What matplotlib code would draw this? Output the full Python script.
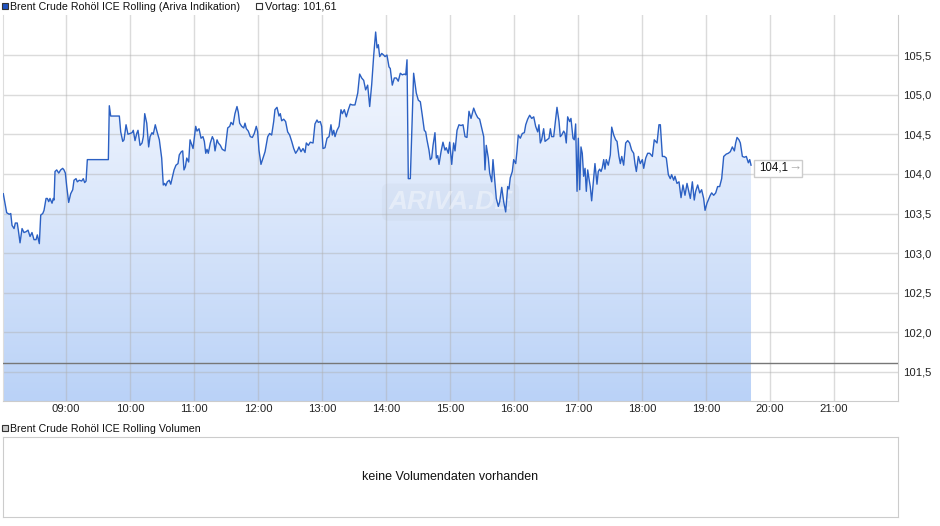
import numpy as np
import matplotlib
matplotlib.use("Agg")
import matplotlib.pyplot as plt
from matplotlib.patches import Rectangle, Polygon
from matplotlib.colors import LinearSegmentedColormap
from matplotlib.transforms import IdentityTransform

plt.rcParams['font.family'] = ['Liberation Sans', 'DejaVu Sans']

# Kursverlauf: Minuten nach 08:00 und Kurs
minuten = [
    1.2, 4.4, 6.8, 8.2, 9.4, 11.3, 12.5, 14.3, 15.3, 16.9,
    18.8, 20.6, 22.5, 24.4, 26.3, 28.1, 30.0, 31.9, 33.1, 35.0,
    36.3, 38.2, 39.4, 41.3, 42.5, 43.8, 45.0, 46.9, 48.1, 48.8,
    49.7, 51.3, 53.2, 55.0, 56.9, 58.1, 59.4, 60.7, 62.5, 64.4,
    66.3, 67.5, 69.4, 70.6, 72.5, 74.7, 76.2, 77.5, 78.8, 80.0,
    99.7, 100.6, 101.9, 110.0, 111.3, 113.2, 114.4, 116.3, 118.1, 120.0,
    121.9, 123.1, 124.7, 126.3, 127.5, 129.4, 131.3, 132.5, 133.8, 135.7,
    137.5, 138.8, 140.6, 141.8, 143.7, 145.0, 147.5, 149.7, 151.2, 152.5,
    153.5, 155.0, 156.8, 158.2, 159.4, 161.3, 163.1, 165.0, 166.2, 168.1,
    169.4, 170.6, 171.9, 173.2, 175.0, 176.3, 179.1, 181.6, 182.8, 184.7,
    186.6, 188.4, 189.7, 191.0, 192.2, 193.4, 195.3, 197.2, 198.5, 199.7,
    201.6, 202.8, 204.7, 206.5, 209.1, 211.6, 213.5, 214.7, 216.6, 218.4,
    220.3, 221.5, 222.8, 224.7, 226.6, 227.8, 229.1, 230.9, 232.8, 234.7,
    236.5, 238.4, 239.7, 240.9, 242.8, 244.7, 246.6, 249.1, 250.9, 252.8,
    254.7, 255.9, 257.8, 259.7, 260.9, 262.2, 264.1, 265.9, 267.8, 269.7,
    271.6, 273.5, 275.3, 277.2, 278.4, 280.3, 282.2, 284.1, 285.3, 287.2,
    289.0, 291.6, 293.4, 295.3, 296.5, 298.4, 299.7, 300.9, 302.8, 304.7,
    306.6, 308.4, 309.7, 311.0, 312.2, 314.1, 316.0, 317.8, 319.1, 320.9,
    322.8, 324.7, 326.5, 328.4, 330.9, 333.5, 335.3, 337.2, 339.1, 340.9,
    342.8, 344.7, 346.6, 348.5, 350.3, 351.6, 352.8, 354.1, 356.0, 357.8,
    359.1, 360.9, 362.8, 364.0, 365.9, 367.8, 369.7, 371.5, 373.4, 375.3,
    377.2, 378.5, 379.7, 380.9, 382.8, 385.9, 388.4, 390.3, 392.2, 394.0,
    395.9, 397.2, 398.4, 400.3, 401.5, 402.8, 404.1, 405.9, 407.2, 408.5,
    409.7, 411.6, 413.4, 415.3, 416.5, 418.4, 419.7, 421.6, 423.4, 424.7,
    426.6, 428.4, 430.3, 432.2, 434.1, 435.9, 437.8, 439.7, 442.2, 444.1,
    446.0, 447.8, 449.7, 451.6, 452.8, 454.0, 455.9, 457.2, 459.1, 460.3,
    462.2, 463.4, 465.3, 466.6, 468.5, 470.3, 472.2, 474.1, 475.3, 476.5,
    478.4, 479.7, 481.6, 482.8, 484.0, 485.9, 487.8, 489.7, 491.0, 492.8,
    494.7, 496.6, 498.5, 500.3, 502.2, 503.4, 504.7, 505.9, 507.8, 509.1,
    510.9, 512.8, 514.1, 515.3, 517.2, 518.4, 520.3, 522.2, 523.4, 524.7,
    526.6, 527.8, 529.0, 530.3, 532.2, 533.4, 535.3, 536.5, 537.8, 539.1,
    540.3, 541.6, 542.8, 544.0, 545.3, 546.6, 547.8, 549.1, 550.3, 551.5,
    552.8, 554.1, 555.9, 557.8, 559.0, 560.3, 561.6, 562.8, 564.1, 565.3,
    566.5, 568.4, 570.3, 571.6, 573.5, 575.3, 576.6, 578.4, 579.7, 581.0,
    582.8, 584.7, 586.6, 588.4, 590.3, 592.2, 593.4, 594.7, 596.6, 598.4,
    600.3, 601.6, 603.5, 605.3, 607.2, 609.7, 611.5, 612.8, 614.1, 615.9,
    617.2, 619.1, 621.0, 622.8, 624.7, 626.5, 627.8, 629.7, 630.9, 632.8,
    634.7, 636.6, 638.4, 640.3, 642.2, 644.1, 645.3, 647.2, 649.0, 650.3,
    652.2, 654.1, 655.9, 657.8, 659.1, 660.9, 662.8, 664.0, 665.3, 667.2,
    669.1, 670.9, 672.8, 674.7, 676.6, 679.0, 680.9, 682.8, 684.7, 686.6,
    687.8, 689.1, 690.9, 692.2, 694.1, 696.0, 697.8, 699.7, 701.0, 702.2,
]
kurs = [
    103.75, 103.51, 103.49, 103.50, 103.35, 103.31, 103.38, 103.38, 103.29, 103.13,
    103.31, 103.26, 103.27, 103.29, 103.21, 103.26, 103.17, 103.17, 103.23, 103.12,
    103.48, 103.50, 103.54, 103.69, 103.69, 103.65, 103.69, 103.63, 103.69, 103.67,
    104.03, 104.05, 104.01, 104.05, 104.07, 104.05, 104.01, 103.84, 103.64, 103.75,
    103.80, 103.92, 103.94, 103.90, 103.92, 103.91, 103.94, 103.89, 103.91, 104.18,
    104.18, 104.86, 104.73, 104.73, 104.53, 104.41, 104.43, 104.62, 104.50, 104.51,
    104.52, 104.55, 104.42, 104.51, 104.55, 104.36, 104.39, 104.47, 104.76, 104.64,
    104.34, 104.47, 104.52, 104.50, 104.62, 104.55, 104.43, 104.20, 103.86, 103.88,
    103.85, 103.90, 103.92, 103.87, 103.94, 104.05, 104.11, 104.13, 104.24, 104.28,
    104.29, 104.05, 104.09, 104.20, 104.15, 104.43, 104.32, 104.60, 104.54, 104.57,
    104.45, 104.47, 104.41, 104.26, 104.31, 104.26, 104.39, 104.47, 104.43, 104.29,
    104.43, 104.39, 104.36, 104.31, 104.29, 104.58, 104.60, 104.65, 104.62, 104.76,
    104.85, 104.78, 104.64, 104.60, 104.58, 104.64, 104.57, 104.54, 104.47, 104.46,
    104.51, 104.60, 104.53, 104.30, 104.12, 104.20, 104.28, 104.47, 104.51, 104.49,
    104.66, 104.81, 104.84, 104.73, 104.76, 104.67, 104.69, 104.66, 104.53, 104.49,
    104.41, 104.32, 104.26, 104.30, 104.34, 104.28, 104.32, 104.27, 104.39, 104.36,
    104.40, 104.39, 104.63, 104.68, 104.65, 104.66, 104.60, 104.32, 104.33, 104.45,
    104.47, 104.62, 104.49, 104.55, 104.47, 104.55, 104.60, 104.81, 104.76, 104.81,
    104.72, 104.81, 104.88, 104.87, 104.87, 105.02, 105.26, 105.21, 105.18, 105.06,
    105.12, 104.85, 105.13, 105.50, 105.79, 105.59, 105.63, 105.48, 105.52, 105.50,
    105.48, 105.50, 105.35, 105.33, 105.12, 105.21, 105.21, 105.17, 105.27, 105.25,
    105.26, 105.25, 105.44, 103.94, 103.94, 105.27, 105.02, 104.93, 104.91, 104.74,
    104.55, 104.53, 104.43, 104.30, 104.18, 104.20, 104.36, 104.52, 104.20, 104.23,
    104.12, 104.28, 104.40, 104.30, 104.33, 104.26, 104.40, 104.12, 104.39, 104.29,
    104.55, 104.62, 104.61, 104.62, 104.47, 104.46, 104.79, 104.70, 104.83, 104.76,
    104.71, 104.69, 104.58, 104.47, 104.05, 104.36, 104.20, 104.01, 103.90, 104.18,
    103.88, 103.69, 103.59, 103.65, 103.83, 103.65, 103.52, 103.84, 103.81, 103.95,
    104.03, 104.18, 104.13, 104.29, 104.49, 104.45, 104.51, 104.52, 104.62, 104.69,
    104.74, 104.70, 104.72, 104.60, 104.53, 104.62, 104.39, 104.43, 104.57, 104.41,
    104.43, 104.45, 104.57, 104.47, 104.47, 104.61, 104.84, 104.66, 104.47, 104.49,
    104.54, 104.51, 104.39, 104.72, 104.66, 104.70, 104.45, 104.43, 104.63, 103.78,
    104.45, 103.80, 104.34, 104.26, 103.97, 104.07, 103.78, 104.05, 103.94, 103.84,
    103.66, 103.86, 104.13, 103.87, 104.03, 104.06, 104.03, 104.08, 104.18, 104.06,
    104.18, 104.11, 104.24, 104.59, 104.49, 104.43, 104.41, 104.22, 104.13, 104.22,
    104.11, 104.39, 104.42, 104.39, 104.30, 104.26, 104.13, 104.03, 104.22, 104.13,
    104.18, 104.07, 104.20, 104.26, 104.26, 104.22, 104.43, 104.41, 104.39, 104.62,
    104.62, 104.22, 104.22, 104.20, 103.99, 103.94, 103.99, 103.92, 103.97, 103.88,
    103.90, 103.70, 103.86, 103.73, 103.88, 103.76, 103.69, 103.90, 103.67, 103.78,
    103.86, 103.76, 103.80, 103.69, 103.54, 103.63, 103.69, 103.73, 103.76, 103.73,
    103.76, 103.84, 103.84, 103.94, 104.22, 104.25, 104.26, 104.28, 104.34, 104.29,
    104.39, 104.46, 104.43, 104.39, 104.22, 104.21, 104.22, 104.14, 104.18, 104.11,
]
vortag = 101.61
letzter = "104,1"

stunden = list(range(9, 22))
zeit_labels = ["%02d:00" % h for h in stunden]
kurs_ticks = [101.5, 102.0, 102.5, 103.0, 103.5, 104.0, 104.5, 105.0, 105.5]

titel = "Brent Crude Rohöl ICE Rolling (Ariva Indikation)"
vortag_text = "Vortag: 101,61"
volumen_titel = "Brent Crude Rohöl ICE Rolling Volumen"
volumen_text = "keine Volumendaten vorhanden"

W, H = 940, 526
def rect(x0, y0, x1, y1):
    return [x0 / W, 1 - y1 / H, (x1 - x0) / W, (y1 - y0) / H]

def kasten(x, y, farbe):
    # kleines Legendenquadrat, Pixel von oben links
    fig.patches.append(Rectangle((x / W, 1 - (y + 6) / H), 6 / W, 6 / H,
                                 transform=fig.transFigure, fc=farbe, ec="#333333", lw=0.8))

fig = plt.figure(figsize=(W / 100, H / 100), dpi=100)
fig.patch.set_facecolor("white")

ax = fig.add_axes(rect(3, 15, 898, 401))
t = 8 + np.array(minuten) / 60.0
k = np.array(kurs)
ylo, yhi = 101.134, 106.005
xlo, xhi = 8 + 1 / 64, 22.0

# Verlaufsfläche
farben = LinearSegmentedColormap.from_list("fl", ["#bad2f7", "#fbfcff"])
grad = np.linspace(0, 1, 256).reshape(-1, 1)
im = ax.imshow(grad, extent=[xlo, xhi, ylo, yhi], origin="lower", aspect="auto",
               cmap=farben, zorder=1, interpolation="bilinear")
verts = [(t[0], ylo)] + list(zip(t, k)) + [(t[-1], ylo)]
flaeche = Polygon(verts, closed=True, facecolor="none", edgecolor="none")
ax.add_patch(flaeche)
im.set_clip_path(flaeche)

ax.plot(t, k, color="#2b60c3", lw=1.0, zorder=3, solid_joinstyle="round")
ax.axhline(vortag, color="#777777", lw=1.0, zorder=4)

ax.set_xlim(xlo, xhi)
ax.set_ylim(ylo, yhi)
ax.set_xticks(stunden)
ax.set_xticklabels(zeit_labels)
ax.set_yticks(kurs_ticks)
ax.set_yticklabels([("%.1f" % v).replace(".", ",") for v in kurs_ticks])
ax.yaxis.tick_right()
ax.tick_params(axis="both", length=0, labelsize=8.1, colors="#222222")
ax.tick_params(axis="x", pad=2)
ax.tick_params(axis="y", pad=4)
ax.grid(True, color="#b0b0b0", alpha=0.45, lw=1.0)
for s in ax.get_xgridlines() + ax.get_ygridlines():
    s.set_zorder(2)
ax.spines["top"].set_visible(False)
ax.spines["left"].set_color("#dddddd")
ax.spines["right"].set_color("#cccccc")
ax.spines["bottom"].set_color("#cccccc")

# Wasserzeichen
ax.text(0.5, 0.515, "ARIVA.DE", transform=ax.transAxes, ha="center", va="center",
        fontsize=19, fontweight="bold", fontstyle="italic", color="#ffffff", alpha=0.4,
        zorder=2.5,
        bbox=dict(boxstyle="round,pad=0.25", fc="#9aa6b8", ec="none", alpha=0.08))

# letzter Kurs
fig.canvas.draw()
px, py = ax.transData.transform((t[-1], k[-1]))
bx0 = px + 3
by = py - 3
fig.patches.append(Rectangle((bx0, by - 8.5), 48, 17, transform=IdentityTransform(),
                             fc="white", ec="#cccccc", lw=1, zorder=5))
fig.text((bx0 + 5) / W, (by + 0.5) / H, letzter, ha="left", va="center",
         fontsize=8.3, color="#111111", zorder=6)
fig.text((bx0 + 34) / W, (by + 0.5) / H, "\u2192", ha="left", va="center",
         fontsize=9.5, color="#aaaaaa", zorder=6)

# Kopfzeile
kasten(1.5, 3, "#1f52c0")
fig.text(10 / W, 1 - 6.5 / H, titel, ha="left", va="center", fontsize=7.7, color="#111111")
kasten(255.5, 3, "white")
fig.text(265 / W, 1 - 6.5 / H, vortag_text, ha="left", va="center", fontsize=7.9, color="#111111")

# Volumen
kasten(1.5, 425, "#cccccc")
fig.text(10 / W, 1 - 428.5 / H, volumen_titel, ha="left", va="center", fontsize=7.7, color="#111111")
vax = fig.add_axes(rect(3, 437, 898, 517))
vax.set_xticks([])
vax.set_yticks([])
for s in vax.spines.values():
    s.set_color("#cccccc")
vax.text(0.5, 0.5, volumen_text, transform=vax.transAxes, ha="center", va="center",
         fontsize=9, color="#111111")

fig.savefig("out.png", dpi=100)
